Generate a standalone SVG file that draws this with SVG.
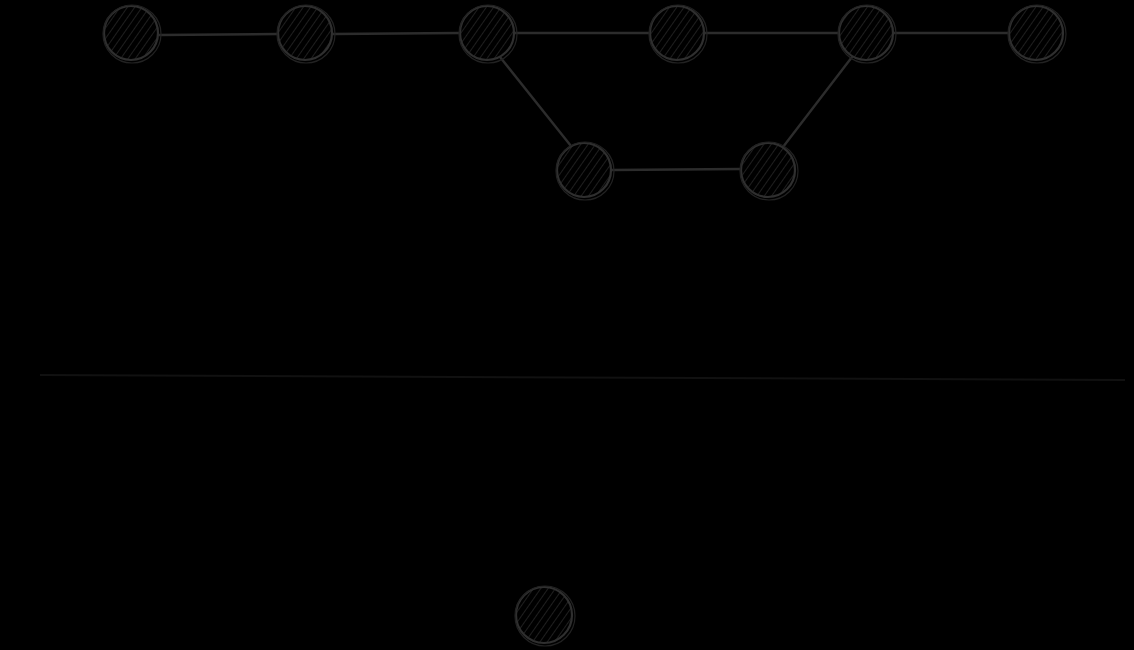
<svg xmlns="http://www.w3.org/2000/svg" width="1134" height="650" viewBox="0 0 1134 650">
<defs>
<pattern id="hatch" patternUnits="userSpaceOnUse" width="6" height="6" patternTransform="rotate(35)">
<line x1="0" y1="0" x2="0" y2="6" stroke="#262626" stroke-width="1.6"/>
</pattern>
<style>
.node circle{fill:url(#hatch);stroke:#2f2f2f;stroke-width:2.2}
.node .ring{fill:none;stroke:#222;stroke-width:1.2}
.edges line{stroke:#2c2c2c;stroke-width:2.4;stroke-linecap:round}
.sep{stroke:#111;stroke-width:2}
</style>
</defs>
<rect width="1134" height="650" fill="#000"/>
<line class="sep" x1="40" y1="375" x2="1125" y2="380"/>
<g id="connectors" class="edges">
<line x1="158" y1="35" x2="278" y2="34"/>
<line x1="332" y1="34" x2="460" y2="33"/>
<line x1="514" y1="33" x2="650" y2="33"/>
<line x1="704" y1="33" x2="839" y2="33"/>
<line x1="893" y1="33" x2="1009" y2="33"/>
<line x1="500" y1="57" x2="571" y2="146"/>
<line x1="611" y1="170" x2="741" y2="169"/>
<line x1="783" y1="147" x2="852" y2="57"/>
</g>
<g id="n1" class="node"><circle cx="131" cy="33" r="27"/><circle class="ring" cx="132" cy="34" r="29"/></g>
<g id="n2" class="node"><circle cx="305" cy="33" r="27"/><circle class="ring" cx="306" cy="34" r="29"/></g>
<g id="n3" class="node"><circle cx="487" cy="33" r="27"/><circle class="ring" cx="488" cy="34" r="29"/></g>
<g id="n4" class="node"><circle cx="677" cy="33" r="27"/><circle class="ring" cx="678" cy="34" r="29"/></g>
<g id="n5" class="node"><circle cx="866" cy="33" r="27"/><circle class="ring" cx="867" cy="34" r="29"/></g>
<g id="n6" class="node"><circle cx="1036" cy="33" r="27"/><circle class="ring" cx="1037" cy="34" r="29"/></g>
<g id="n7" class="node"><circle cx="584" cy="170" r="27"/><circle class="ring" cx="585" cy="171" r="29"/></g>
<g id="n8" class="node"><circle cx="768" cy="170" r="27"/><circle class="ring" cx="769" cy="171" r="29"/></g>
<g id="n9" class="node"><circle cx="544" cy="615" r="28"/><circle class="ring" cx="545" cy="616" r="30"/></g>
</svg>
